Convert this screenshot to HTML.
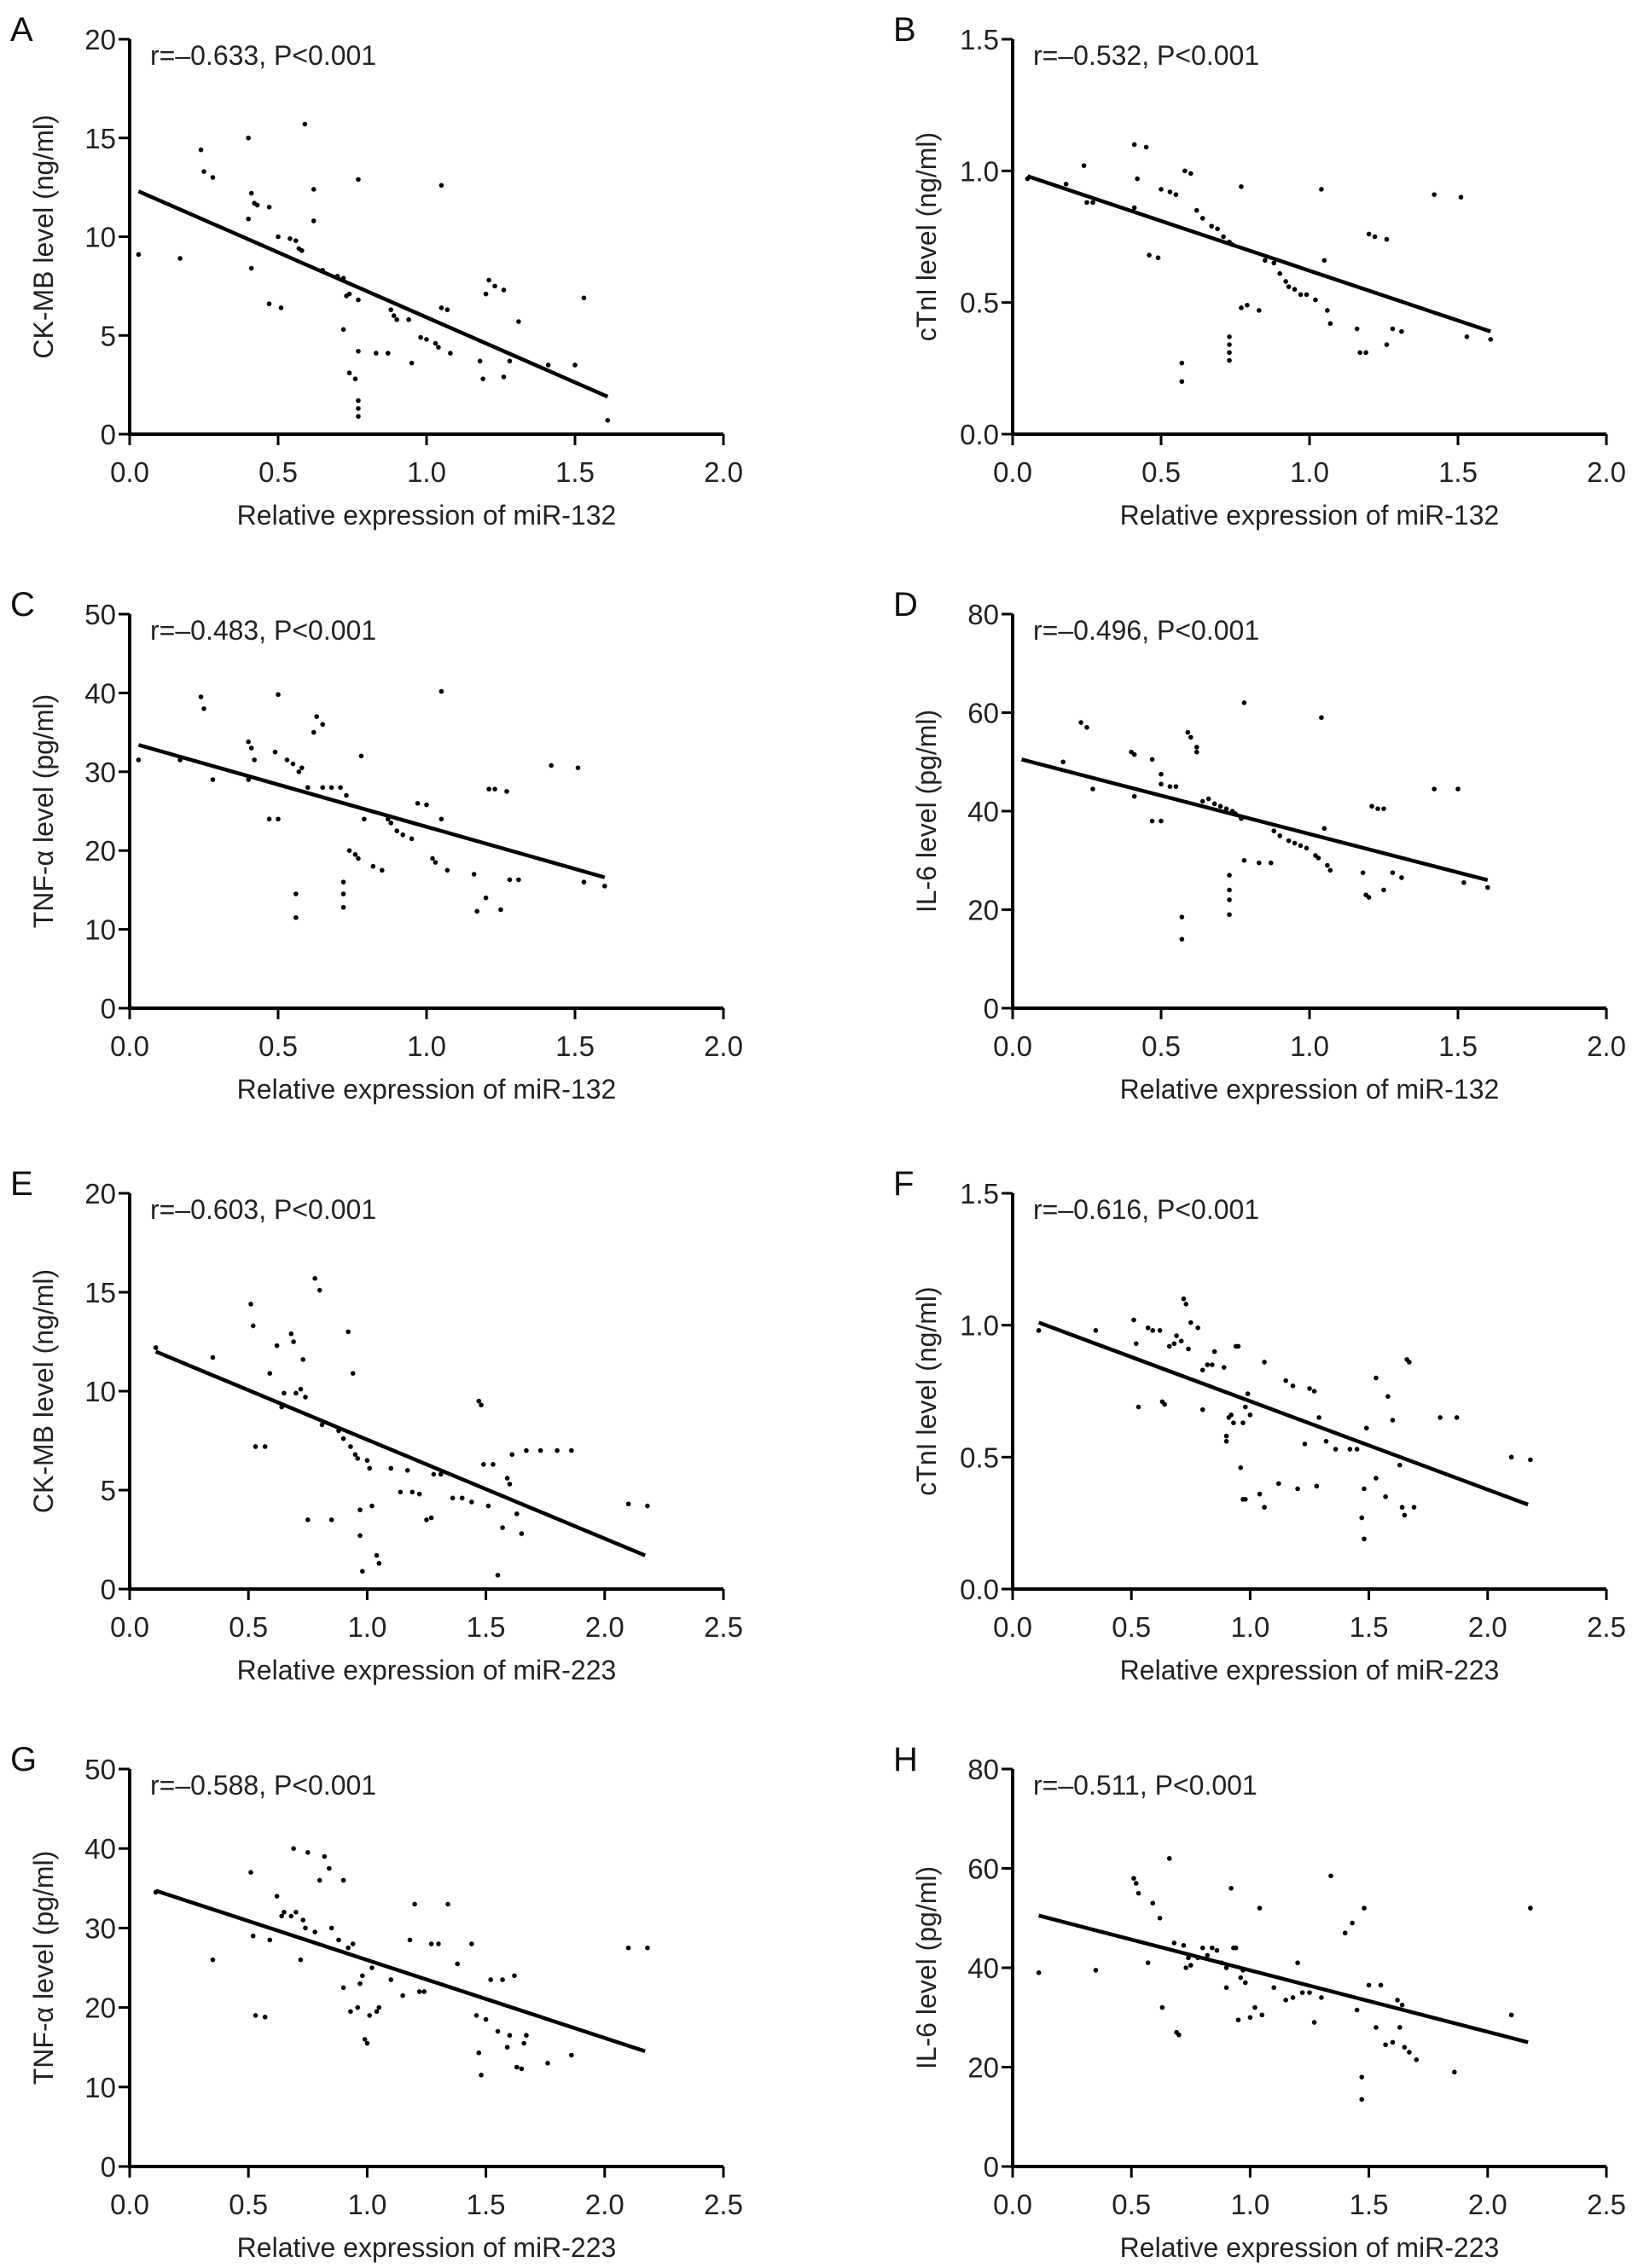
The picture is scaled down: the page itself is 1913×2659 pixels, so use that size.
<!DOCTYPE html>
<html><head><meta charset="utf-8"><style>
html,body{margin:0;padding:0;background:#fff;}
svg{display:block;font-family:"Liberation Sans",Arial,sans-serif;}
</style></head><body>
<svg id="fig" width="1913" height="2659" viewBox="0 0 1913 2659" xmlns="http://www.w3.org/2000/svg"></svg>
<script>
// ---- data (x = relative expression, y = marker level) ----
const aX=[0.03,0.17,0.24,0.25,0.28,0.4,0.41,0.42,0.43,0.47,0.4,0.41,0.47,0.51,0.5,0.54,0.56,0.57,0.58,0.59,0.62,0.62,0.65,0.7,0.72,0.73,0.74,0.77,0.77,0.72,0.74,0.76,0.77,0.77,0.77,0.77,0.83,0.87,0.88,0.89,0.9,0.94,0.95,0.98,1.0,1.03,1.04,1.05,1.05,1.07,1.08,1.18,1.19,1.2,1.21,1.23,1.26,1.26,1.28,1.31,1.41,1.5,1.53,1.61];
const aY=[9.1,8.9,14.4,13.3,13,15,12.2,11.7,11.6,11.5,10.9,8.4,6.6,6.4,10,9.9,9.8,9.4,9.3,15.7,12.4,10.8,8.3,8,7.9,7,7.1,6.8,12.9,5.3,3.1,2.8,1.7,1.3,0.9,4.2,4.1,4.1,6.3,6,5.8,5.8,3.6,4.9,4.8,4.6,4.4,12.6,6.4,6.3,4.1,3.7,2.8,7.1,7.8,7.5,7.3,2.9,3.7,5.7,3.5,3.5,6.9,0.7];
const bX=[0.05,0.18,0.24,0.25,0.27,0.41,0.42,0.41,0.45,0.46,0.49,0.5,0.53,0.55,0.58,0.6,0.57,0.57,0.62,0.64,0.67,0.69,0.71,0.73,0.74,0.73,0.73,0.73,0.73,0.77,0.77,0.79,0.83,0.85,0.88,0.9,0.92,0.93,0.95,0.97,0.99,1.02,1.04,1.05,1.06,1.07,1.16,1.17,1.19,1.2,1.22,1.26,1.26,1.28,1.31,1.42,1.51,1.53,1.61];
const bY=[0.97,0.95,1.02,0.88,0.88,1.1,0.97,0.86,1.09,0.68,0.67,0.93,0.92,0.91,1.0,0.99,0.27,0.2,0.85,0.82,0.79,0.78,0.75,0.73,0.72,0.37,0.34,0.31,0.28,0.94,0.48,0.49,0.47,0.66,0.65,0.61,0.58,0.56,0.55,0.53,0.53,0.51,0.93,0.66,0.47,0.42,0.4,0.31,0.31,0.76,0.75,0.74,0.34,0.4,0.39,0.91,0.9,0.37,0.36];
const cX=[0.03,0.17,0.24,0.25,0.28,0.4,0.41,0.42,0.4,0.47,0.5,0.49,0.5,0.53,0.55,0.57,0.58,0.56,0.56,0.6,0.62,0.63,0.65,0.65,0.68,0.71,0.73,0.74,0.76,0.77,0.72,0.72,0.72,0.78,0.79,0.82,0.85,0.87,0.88,0.9,0.92,0.95,0.97,1.0,1.02,1.03,1.05,1.05,1.07,1.16,1.17,1.2,1.21,1.23,1.25,1.27,1.28,1.31,1.42,1.51,1.53,1.6];
const cY=[31.5,31.5,39.5,38,29,33.8,33,31.5,29,24,24,32.5,39.8,31.5,31,30,30.5,14.5,11.5,28,35,37,36,28,28,28,27,20,19.5,19,16,14.5,12.8,32,24,18,17.5,24,23.5,22.5,22,21.5,26,25.8,19,18.5,40.2,24,17.5,17,12.3,14,27.8,27.8,12.5,27.5,16.3,16.3,30.8,30.5,16,15.5];
const dX=[0.17,0.23,0.25,0.27,0.4,0.41,0.41,0.47,0.47,0.5,0.5,0.5,0.53,0.55,0.57,0.57,0.59,0.6,0.62,0.62,0.64,0.66,0.68,0.7,0.72,0.74,0.75,0.73,0.73,0.73,0.73,0.78,0.77,0.78,0.83,0.87,0.88,0.9,0.93,0.95,0.97,0.99,1.02,1.03,1.04,1.05,1.06,1.07,1.18,1.19,1.2,1.21,1.23,1.25,1.25,1.28,1.31,1.42,1.5,1.52,1.6];
const dY=[50,58,57,44.5,52,51.5,43,50.5,38,47.5,38,45.5,45,45,18.5,14,56,55,52,53,42,42.5,41.5,41,40.5,40,39.5,27,24,22,19,62,38.5,30,29.5,29.5,36,35,34,33.5,33,32.5,31,30.5,59,36.5,29,28,27.5,23,22.5,41,40.5,40.5,24,27.5,26.5,44.5,44.5,25.5,24.5];
const eX=[0.11,0.35,0.51,0.52,0.53,0.57,0.59,0.62,0.64,0.65,0.68,0.69,0.7,0.72,0.73,0.74,0.75,0.78,0.8,0.81,0.85,0.88,0.9,0.92,0.93,0.94,0.95,0.96,0.97,0.97,0.98,1.0,1.01,1.02,1.04,1.05,1.1,1.14,1.17,1.19,1.22,1.25,1.27,1.28,1.31,1.36,1.4,1.44,1.47,1.48,1.49,1.51,1.53,1.55,1.57,1.59,1.6,1.61,1.63,1.65,1.67,1.73,1.8,1.86,2.1,2.18];
const eY=[12.2,11.7,14.4,13.3,7.2,7.2,10.9,12.3,9.2,9.9,12.9,12.5,9.9,10.1,11.6,9.7,3.5,15.7,15.1,8.3,3.5,8,7.6,13,7.2,10.9,6.8,6.6,4,2.7,0.9,6.5,6.1,4.2,1.7,1.3,6.1,4.9,6,4.9,4.8,3.5,3.6,5.8,5.8,4.6,4.6,4.4,9.5,9.3,6.3,4.2,6.3,0.7,3.1,5.6,5.3,6.8,3.8,2.8,7,7,7,7,4.3,4.2];
const fX=[0.11,0.35,0.51,0.52,0.53,0.57,0.59,0.62,0.63,0.64,0.66,0.68,0.69,0.71,0.72,0.73,0.74,0.75,0.78,0.8,0.8,0.82,0.84,0.85,0.89,0.9,0.9,0.91,0.92,0.93,0.94,0.95,0.96,0.97,0.98,0.97,0.98,0.99,1.0,1.04,1.06,1.06,1.12,1.15,1.18,1.2,1.23,1.25,1.27,1.28,1.29,1.32,1.36,1.42,1.45,1.47,1.48,1.48,1.49,1.53,1.53,1.57,1.58,1.6,1.63,1.64,1.65,1.66,1.67,1.69,1.8,1.87,2.1,2.18];
const fY=[0.98,0.98,1.02,0.93,0.69,0.99,0.98,0.98,0.71,0.70,0.92,0.93,0.96,0.94,1.1,1.08,0.91,1.01,0.99,0.83,0.68,0.85,0.85,0.9,0.84,0.58,0.56,0.65,0.66,0.63,0.92,0.92,0.46,0.34,0.34,0.63,0.69,0.74,0.66,0.36,0.31,0.86,0.4,0.79,0.77,0.38,0.55,0.76,0.75,0.39,0.65,0.56,0.53,0.53,0.53,0.27,0.19,0.38,0.61,0.8,0.42,0.35,0.73,0.64,0.47,0.31,0.28,0.87,0.86,0.31,0.65,0.65,0.5,0.49];
const gX=[0.11,0.35,0.51,0.52,0.53,0.57,0.59,0.62,0.64,0.65,0.68,0.69,0.7,0.72,0.73,0.74,0.75,0.78,0.8,0.82,0.84,0.85,0.88,0.9,0.9,0.92,0.93,0.94,0.96,0.97,0.98,0.99,1.0,1.01,1.02,1.04,1.05,1.1,1.15,1.18,1.2,1.22,1.24,1.27,1.3,1.34,1.38,1.44,1.46,1.47,1.48,1.5,1.52,1.55,1.57,1.59,1.6,1.62,1.63,1.65,1.66,1.67,1.76,1.86,2.1,2.18];
const gY=[34.5,26,37,29,19,18.8,28.5,34,31.5,32,31.5,40,32,26,31,30,39.5,29.5,36,39,37.5,30,28.5,36,22.5,27.5,19.5,28,20,23,24,16,15.5,19,25,19.5,20,23.5,21.5,28.5,33,22,22,28,28,33,25.5,28,19,14.3,11.5,18.5,23.5,17,23.5,15,16.5,24,12.5,12.3,15.5,16.5,13,14,27.5,27.5];
const hX=[0.11,0.35,0.51,0.52,0.53,0.57,0.59,0.62,0.63,0.66,0.68,0.69,0.7,0.72,0.73,0.74,0.75,0.78,0.8,0.82,0.84,0.86,0.88,0.9,0.9,0.92,0.93,0.94,0.95,0.96,0.97,0.98,1.0,1.02,1.04,1.05,1.1,1.15,1.18,1.2,1.22,1.25,1.27,1.3,1.34,1.4,1.43,1.45,1.47,1.47,1.48,1.5,1.53,1.55,1.57,1.6,1.62,1.63,1.64,1.65,1.67,1.7,1.86,2.1,2.18];
const hY=[39,39.5,58,57,55,41,53,50,32,62,45,27,26.5,44.5,40,42,40.5,42,44,42.5,44,43.5,41,40,36,56,44,44,29.5,38,39.5,37,30,32,52,30.5,36,33.5,34,41,35,35,29,34,58.5,47,49,31.5,18,13.5,52,36.5,28,36.5,24.5,25,33.5,28,32.5,24,23,21.5,19,30.5,52];
// regression line endpoints [x0,y0,x1,y1]
const aFit=[0.03,12.3,1.61,1.9], bFit=[0.05,0.98,1.61,0.39], cFit=[0.03,33.4,1.6,16.6], dFit=[0.03,50.5,1.6,26];
const eFit=[0.11,12,2.17,1.7], fFit=[0.11,1.01,2.17,0.32], gFit=[0.11,34.7,2.17,14.5], hFit=[0.11,50.5,2.17,25];
const xTicks132=["0.0","0.5","1.0","1.5","2.0"], xTicks223=["0.0","0.5","1.0","1.5","2.0","2.5"];
const yT20=["0","5","10","15","20"], yT15=["0.0","0.5","1.0","1.5"], yT50=["0","10","20","30","40","50"], yT80=["0","20","40","60","80"];
const stats=["r=\u20130.633, P<0.001","r=\u20130.532, P<0.001","r=\u20130.483, P<0.001","r=\u20130.496, P<0.001","r=\u20130.603, P<0.001","r=\u20130.616, P<0.001","r=\u20130.588, P<0.001","r=\u20130.511, P<0.001"];

const NS="http://www.w3.org/2000/svg";
const svg=document.getElementById('fig');
function mk(tag,attrs,parent){const e=document.createElementNS(NS,tag);for(const k in attrs)e.setAttribute(k,attrs[k]);(parent||svg).appendChild(e);return e;}

const cols=[[152,848],[1187,1883]];
const rows=[[46,509],[720,1182],[1399,1863],[2074,2540]];
const panels=[
 {L:"A",c:0,r:0,xs:aX,ys:aY,fit:aFit,xt:xTicks132,yt:yT20,ymax:20,yl:"CK-MB level (ng/ml)",xl:"Relative expression of miR-132"},
 {L:"B",c:1,r:0,xs:bX,ys:bY,fit:bFit,xt:xTicks132,yt:yT15,ymax:1.5,yl:"cTnI level (ng/ml)",xl:"Relative expression of miR-132"},
 {L:"C",c:0,r:1,xs:cX,ys:cY,fit:cFit,xt:xTicks132,yt:yT50,ymax:50,yl:"TNF-\u03b1 level (pg/ml)",xl:"Relative expression of miR-132"},
 {L:"D",c:1,r:1,xs:dX,ys:dY,fit:dFit,xt:xTicks132,yt:yT80,ymax:80,yl:"IL-6 level (pg/ml)",xl:"Relative expression of miR-132"},
 {L:"E",c:0,r:2,xs:eX,ys:eY,fit:eFit,xt:xTicks223,yt:yT20,ymax:20,yl:"CK-MB level (ng/ml)",xl:"Relative expression of miR-223"},
 {L:"F",c:1,r:2,xs:fX,ys:fY,fit:fFit,xt:xTicks223,yt:yT15,ymax:1.5,yl:"cTnI level (ng/ml)",xl:"Relative expression of miR-223"},
 {L:"G",c:0,r:3,xs:gX,ys:gY,fit:gFit,xt:xTicks223,yt:yT50,ymax:50,yl:"TNF-\u03b1 level (pg/ml)",xl:"Relative expression of miR-223"},
 {L:"H",c:1,r:3,xs:hX,ys:hY,fit:hFit,xt:xTicks223,yt:yT80,ymax:80,yl:"IL-6 level (pg/ml)",xl:"Relative expression of miR-223"}
];
panels.forEach((p,i)=>{
  const [x0,x1]=cols[p.c], [y0,y1]=rows[p.r];
  const xmax=parseFloat(p.xt[p.xt.length-1]);
  const sx=v=>x0+(x1-x0)*v/xmax, sy=v=>y1-(y1-y0)*v/p.ymax;
  const g=mk('g',{});
  
  
  const lt=mk('text',{x:x0-140,y:y0+2,'font-size':40,fill:'#111'},g); lt.textContent=p.L;
  
  
  const ax=mk('path',{d:`M${x0},${y0} L${x0},${y1} L${x1},${y1}`,stroke:'#000','stroke-width':4,fill:'none'},g);
  
  
  p.xt.forEach(t=>{const X=sx(parseFloat(t));
    mk('line',{x1:X,y1:y1,x2:X,y2:y1+13,stroke:'#000','stroke-width':3},g);
    const tx=mk('text',{x:X,y:y1+56,'font-size':33,'text-anchor':'middle',fill:'#222'},g);tx.textContent=t;
    
    });
  p.yt.forEach(t=>{const Y=sy(parseFloat(t));
    mk('line',{x1:x0-13,y1:Y,x2:x0,y2:Y,stroke:'#000','stroke-width':3},g);
    const ty=mk('text',{x:x0-16,y:Y+12,'font-size':33,'text-anchor':'end',fill:'#222'},g);ty.textContent=t;
    
    });
  const xt=mk('text',{x:(x0+x1)/2,y:y1+106,'font-size':32,'text-anchor':'middle',fill:'#222'},g);xt.textContent=p.xl;
  
  
  const yx=x0-90, yy=(y0+y1)/2;
  const yt=mk('text',{x:yx,y:yy,'font-size':32,'text-anchor':'middle',fill:'#222',transform:`rotate(-90 ${yx} ${yy})`},g);yt.textContent=p.yl;
  
  
  const st=mk('text',{x:x0+24,y:y0+30,'font-size':32,fill:'#222'},g);st.textContent=stats[i];
  
  
  p.xs.forEach((xv,k)=>{const c=mk('circle',{cx:sx(xv),cy:sy(p.ys[k]),r:2.8,fill:'#000'},g);
    
    });
  const f=p.fit;
  const rl=mk('line',{x1:sx(f[0]),y1:sy(f[1]),x2:sx(f[2]),y2:sy(f[3]),stroke:'#000','stroke-width':4.5},g);
  
  
});
</script>
</body></html>
